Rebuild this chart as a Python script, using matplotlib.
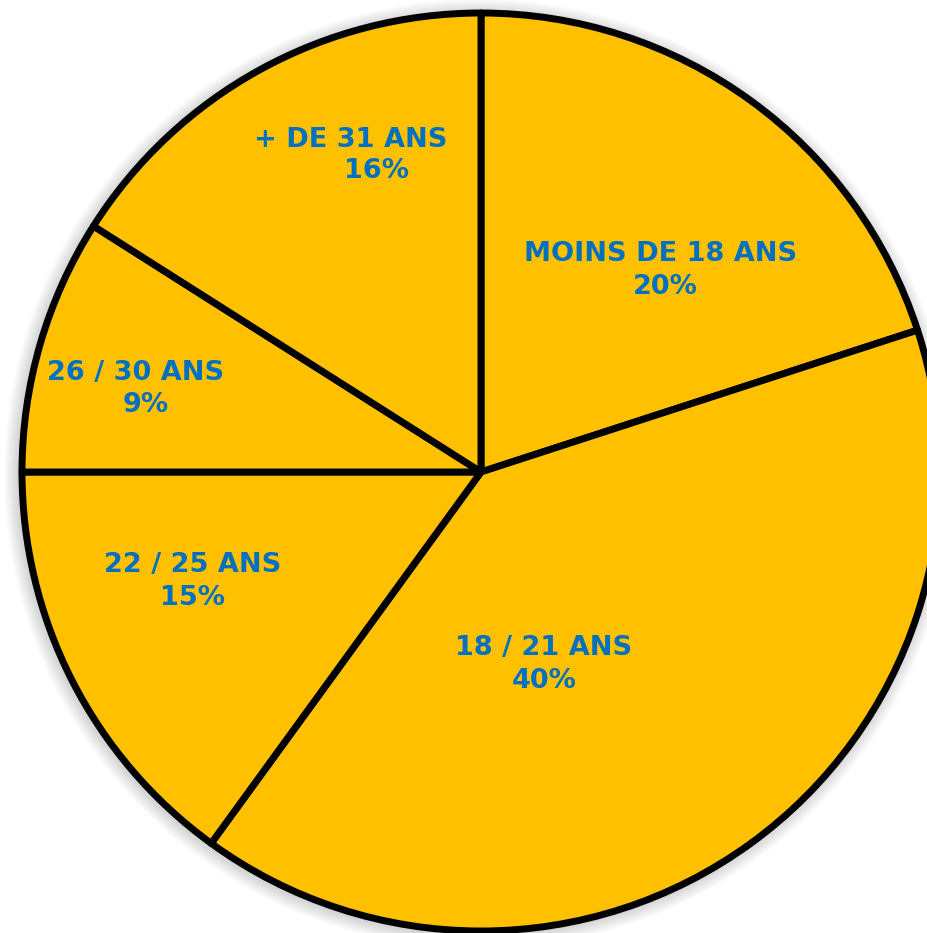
import matplotlib.pyplot as plt
from matplotlib.patches import Circle

# tranches d'age, ordre horaire depuis le haut
tranches = ['MOINS DE 18 ANS', '18 / 21 ANS', '22 / 25 ANS', '26 / 30 ANS', '+ DE 31 ANS']
parts = [20, 40, 15, 9, 16]

# positions des etiquettes (px, origine en haut a gauche)
pos_nom = [(661, 254), (544, 648), (193, 565), (136, 373), (351, 140)]
pos_pct = [(665, 287), (544, 681), (193, 598), (146, 405), (377, 171)]

W, H = 927, 933
cx, cy, r = 481, 472, 459

fig = plt.figure(figsize=(W / 100, H / 100), dpi=100)
ax = fig.add_axes([0, 0, 1, 1])
ax.set_xlim(0, W)
ax.set_ylim(0, H)
ax.axis('off')

# ombre legere autour du camembert
for i in range(14):
    ax.add_patch(Circle((cx - 2, H - cy - 2), r + 16 - i, color='#000000',
                        alpha=0.012, lw=0, zorder=0))

ax.pie(parts, center=(cx, H - cy), radius=r, startangle=90, counterclock=False,
       colors=['#FFC000'] * len(parts),
       wedgeprops=dict(edgecolor='black', linewidth=5, joinstyle='round'))
ax.set_xlim(0, W)
ax.set_ylim(0, H)
ax.set_aspect('equal')

for nom, p, (xn, yn), (xp, yp) in zip(tranches, parts, pos_nom, pos_pct):
    ax.text(xn, H - yn, nom, ha='center', va='center', fontsize=19.5,
            fontweight='bold', color='#0070C0')
    ax.text(xp, H - yp, f'{p}%', ha='center', va='center', fontsize=19.5,
            fontweight='bold', color='#0070C0')

fig.savefig('out.png', dpi=100)
